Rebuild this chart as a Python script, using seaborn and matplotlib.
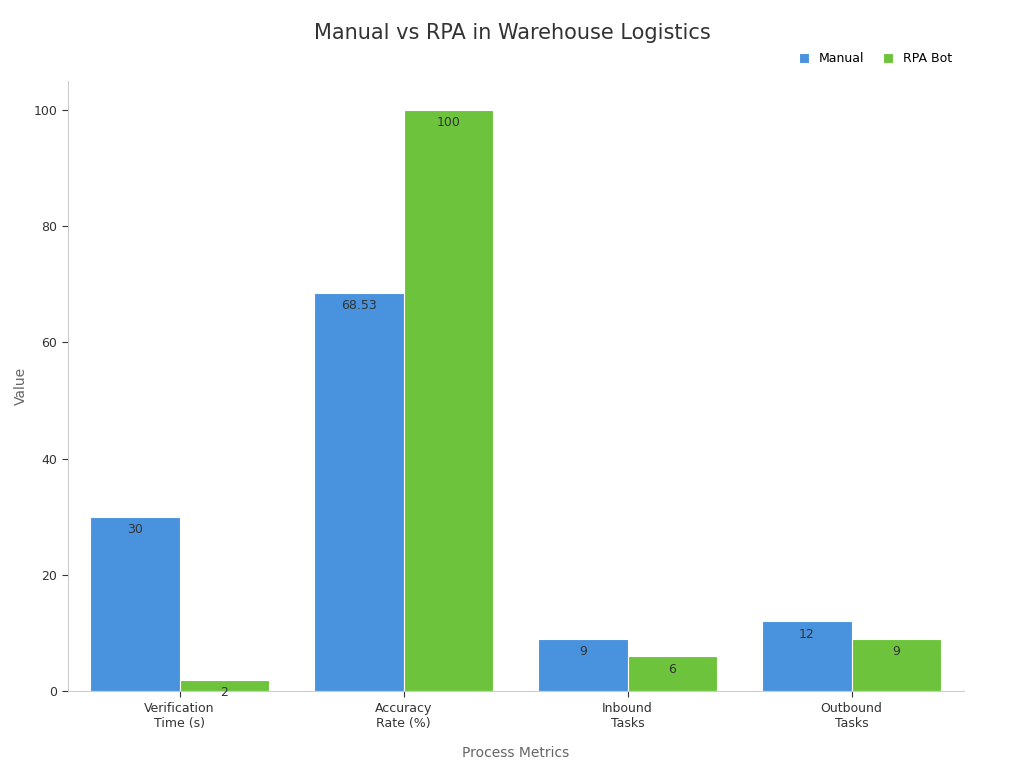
import matplotlib
matplotlib.use("Agg")
import matplotlib.pyplot as plt
import seaborn as sns
import pandas as pd

categories = ["Verification\nTime (s)", "Accuracy\nRate (%)", "Inbound\nTasks", "Outbound\nTasks"]
manual = [30, 68.53, 9, 12]
rpa = [2, 100, 6, 9]
series = ["Manual", "RPA Bot"]
colors = ["#3091F7", "#66DB25"]

df = pd.DataFrame({
    "Metric": categories * 2,
    "Value": manual + rpa,
    "Series": [series[0]] * 4 + [series[1]] * 4,
})

fig = plt.figure(figsize=(10.24, 7.68), dpi=100)
ax = fig.add_axes([0.066, 0.1, 0.875, 0.795])
sns.barplot(data=df, x="Metric", y="Value", hue="Series", palette=colors,
            width=0.8, edgecolor="white", linewidth=0.8, ax=ax)

for cont in ax.containers:
    labels = [f"{v:g}" for v in cont.datavalues]
    ax.bar_label(cont, labels=labels, label_type="edge", padding=-14,
                 fontsize=9, color="#333333")

ax.set_ylim(0, 105)
ax.set_xlim(-0.5, 3.5)
ax.set_yticks([0, 20, 40, 60, 80, 100])
ax.tick_params(axis="both", labelsize=9, colors="#333333", length=4)
ax.tick_params(axis="x", length=4)
for s in ["top", "right"]:
    ax.spines[s].set_visible(False)
for s in ["left", "bottom"]:
    ax.spines[s].set_color("#cccccc")
ax.set_xlabel("Process Metrics", fontsize=10, color="#666666", labelpad=12)
ax.set_ylabel("Value", fontsize=10, color="#666666")
fig.suptitle("Manual vs RPA in Warehouse Logistics", fontsize=15, color="#333333", y=0.97)
ax.legend(loc="upper right", bbox_to_anchor=(1.0, 1.065), ncol=2, frameon=False,
          fontsize=9, handlelength=0.8, handleheight=0.8, columnspacing=1.5)
fig.savefig("out.png", dpi=100)
